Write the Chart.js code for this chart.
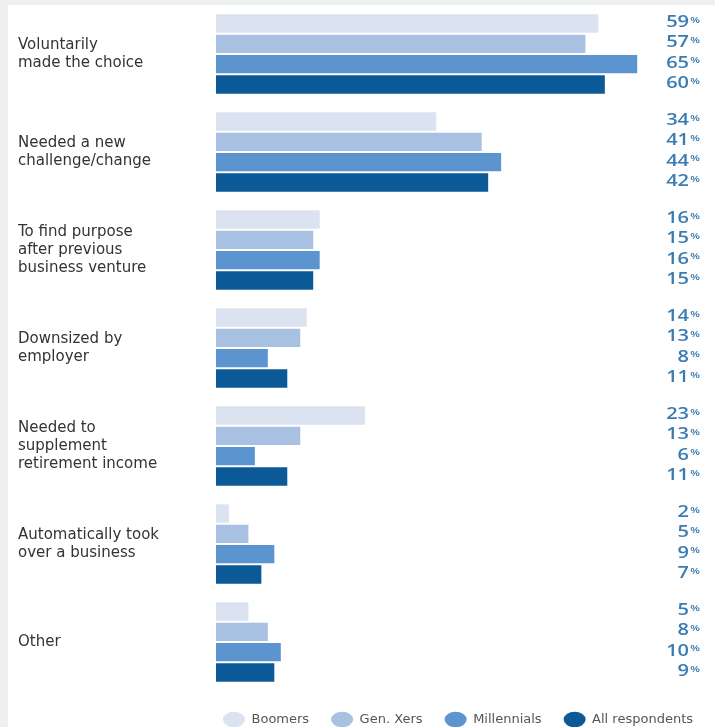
<!DOCTYPE html>
<html>
<head>
<meta charset="utf-8">
<title>Reasons for starting a business</title>
<script src="https://cdn.jsdelivr.net/npm/chart.js@4.4.1/dist/chart.umd.min.js"></script>
<style>
  html, body { margin: 0; padding: 0; background: #eef0ef; }
  #wrap { position: absolute; left: 8px; top: 5px; width: 707px; height: 722px; background: #fff; }
</style>
</head>
<body>
<div id="wrap"><canvas id="reasonsChart"></canvas></div>
<script>
// --- Data ---
const categories = [
  ["Voluntarily", "made the choice"],
  ["Needed a new", "challenge/change"],
  ["To find purpose", "after previous", "business venture"],
  ["Downsized by", "employer"],
  ["Needed to", "supplement", "retirement income"],
  ["Automatically took", "over a business"],
  ["Other"]
];
const boomers        = [59, 34, 16, 14, 23, 2, 5];
const genXers        = [57, 41, 15, 13, 13, 5, 8];
const millennials    = [65, 44, 16, 8, 6, 9, 10];
const allRespondents = [60, 42, 15, 11, 11, 7, 9];
const seriesNames  = ["Boomers", "Gen. Xers", "Millennials", "All respondents"];
const seriesColors = ["#dbe3f0", "#a8c0e1", "#5c94cf", "#0b5997"];

const LABEL_FONT = "'DejaVu Sans', sans-serif";
const VALUE_FONT = "'Open Sans', sans-serif";

// value + small "%" in the right-hand column (text drawn a bit wide)
const valueLabels = {
  id: 'valueLabels',
  afterDatasetsDraw(chart) {
    const ctx = chart.ctx;
    const x = chart.chartArea.right - 26;
    ctx.save();
    ctx.fillStyle = '#3a7bb1';
    chart.data.datasets.forEach((ds, i) => {
      chart.getDatasetMeta(i).data.forEach((bar, j) => {
        ctx.save();
        ctx.translate(x, bar.y - 1);
        ctx.scale(1.25, 1);
        ctx.font = "600 16px " + VALUE_FONT;
        ctx.textAlign = 'right';
        ctx.textBaseline = 'middle';
        ctx.fillText(ds.data[j], 0, 0);
        ctx.font = "600 9px " + VALUE_FONT;
        ctx.textAlign = 'left';
        ctx.textBaseline = 'top';
        ctx.fillText('%', 1, -7);
        ctx.restore();
      });
    });
    ctx.restore();
  }
};

// keep the legend strip short so the bars use the full height
const legendHeight = {
  id: 'legendHeight',
  beforeInit(chart) {
    const fit = chart.legend.fit;
    chart.legend.fit = function () {
      fit.bind(chart.legend)();
      this.height = 36;
    };
  }
};

const allSeries = [boomers, genXers, millennials, allRespondents];

new Chart(document.getElementById('reasonsChart'), {
  type: 'bar',
  data: {
    labels: categories,
    datasets: allSeries.map((vals, i) => ({
      label: seriesNames[i],
      data: vals,
      backgroundColor: seriesColors[i],
      borderWidth: 0,
      barPercentage: 0.9,
      categoryPercentage: 0.83
    }))
  },
  options: {
    indexAxis: 'y',
    responsive: true,
    maintainAspectRatio: false,
    animation: false,
    layout: { padding: { left: 10, right: 0, top: 0, bottom: 0 } },
    scales: {
      x: { display: false, min: 0, max: 77 },
      y: {
        grid: { display: false },
        border: { display: false },
        afterFit(scale) {
          scale.width = 198;
          // multi-line labels must not push the plot area down
          scale.paddingTop = 0;
          scale.paddingBottom = 0;
        },
        ticks: {
          crossAlign: 'far',
          color: '#333',
          font: { family: LABEL_FONT, size: 15, lineHeight: 1.2 }
        }
      }
    },
    plugins: {
      legend: {
        position: 'bottom',
        align: 'end',
        labels: {
          usePointStyle: true,
          pointStyle: 'circle',
          pointStyleWidth: 22,
          boxHeight: 11,
          padding: 22,
          color: '#555',
          font: { family: LABEL_FONT, size: 13 }
        }
      },
      tooltip: { enabled: false }
    }
  },
  plugins: [valueLabels, legendHeight]
});
</script>
</body>
</html>
